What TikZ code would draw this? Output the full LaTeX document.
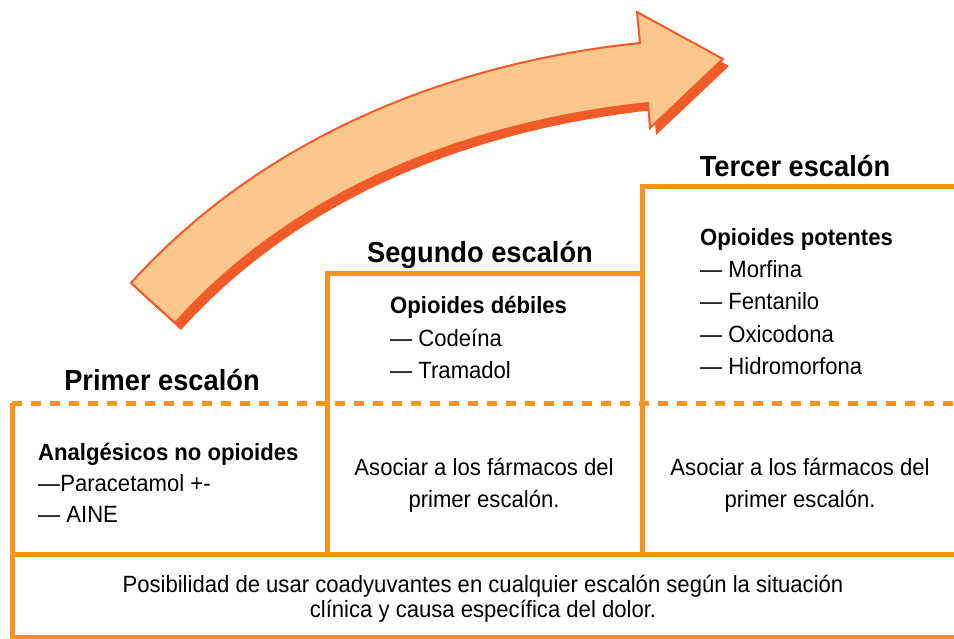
\documentclass[tikz,border=0pt]{standalone}
\usepackage{fontspec}
\setmainfont{Liberation Sans}[FakeStretch=0.94]
\definecolor{stepor}{RGB}{247,148,30}
\definecolor{arrline}{RGB}{241,90,41}
\definecolor{arrfill}{RGB}{251,199,139}
\begin{document}
\begin{tikzpicture}[x=1pt,y=-1pt,
  stepline/.style={draw=stepor, line width=5pt, line join=miter},
  dashline/.style={draw=stepor, line width=5pt, dash pattern=on 10pt off 9pt},
  heading/.style={font=\fontsize{29}{32}\selectfont\bfseries, inner sep=0pt, anchor=base},
  bodyl/.style={font=\fontsize{23.5}{32}\selectfont, inner sep=0pt, anchor=base west},
  bodyc/.style={font=\fontsize{23.5}{32}\selectfont, inner sep=0pt, anchor=base},
  subl/.style={font=\fontsize{23.5}{32}\selectfont\bfseries, inner sep=0pt, anchor=base west}]
\useasboundingbox (0,0) rectangle (954,639);
% arrow shadow and arrow
\fill[arrline, shift={(6,7)}] (131,283) .. controls (261,139) and (447,63) .. (640,43)
  -- (637,12) -- (723,59) -- (650,128) -- (648,103)
  .. controls (469,122) and (295,189) .. (175,323) -- cycle;
\filldraw[fill=arrfill, draw=arrline, line width=2pt, line join=miter]
  (131,283) .. controls (261,139) and (447,63) .. (640,43)
  -- (637,12) -- (723,59) -- (650,128) -- (648,103)
  .. controls (469,122) and (295,189) .. (175,323) -- cycle;
% step lines
\draw[dashline] (12,403) -- (954,403);
\draw[stepline] (12,403) -- (12,637) -- (954,637);
\draw[stepline] (12,554) -- (954,554);
\draw[stepline] (327,554) -- (327,274) -- (642,274);
\draw[stepline] (642,554) -- (642,187) -- (954,187);
% headings
\node[heading] (h1) at (162,390) {Primer escalón};
\node[heading] (h2) at (480,263) {Segundo escalón};
\node[heading] (h3) at (795,177) {Tercer escalón};
% first step
\node[subl] (a0) at (38,460) {Analgésicos no opioides};
\node[bodyl] (a1) at (38,491) {—Paracetamol +-};
\node[bodyl] (a2) at (38,522) {— AINE};
% second step
\node[subl] (b0) at (390,314) {Opioides débiles};
\node[bodyl] (b1) at (390,346) {— Codeína};
\node[bodyl] (b2) at (390,378) {— Tramadol};
\node[bodyc] (b3) at (484,475) {Asociar a los fármacos del};
\node[bodyc] (b4) at (484,507) {primer escalón.};
% third step
\node[subl] (c0) at (700,246) {Opioides potentes};
\node[bodyl] (c1) at (700,278) {— Morfina};
\node[bodyl] (c2) at (700,310) {— Fentanilo};
\node[bodyl] (c3) at (700,342) {— Oxicodona};
\node[bodyl] (c4) at (700,374) {— Hidromorfona};
\node[bodyc] (c5) at (800,475) {Asociar a los fármacos del};
\node[bodyc] (c6) at (800,507) {primer escalón.};
% bottom
\node[bodyc] (d1) at (483,592) {Posibilidad de usar coadyuvantes en cualquier escalón según la situación};
\node[bodyc] (d2) at (483,617) {clínica y causa específica del dolor.};
\end{tikzpicture}
\end{document}
